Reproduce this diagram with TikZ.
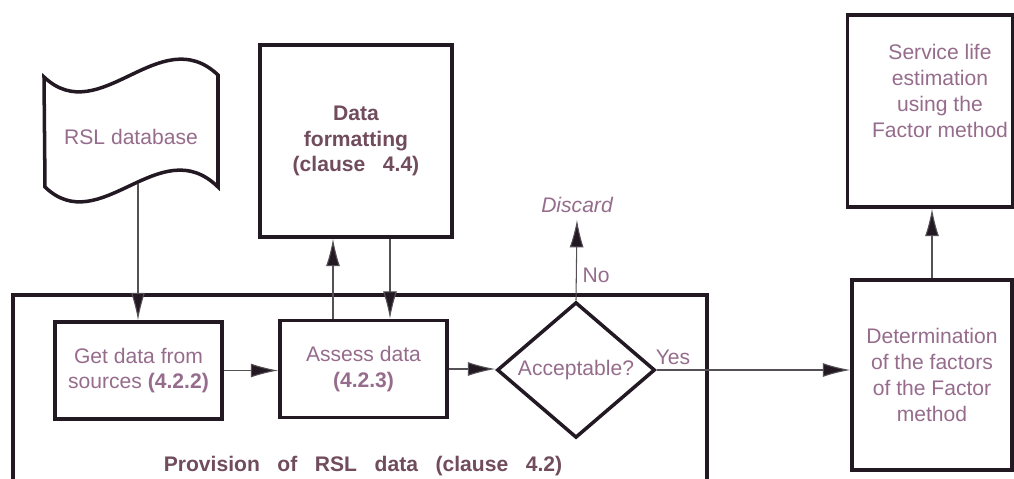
\documentclass[tikz,border=0pt]{standalone}
\usepackage{fontspec}
\setmainfont{Liberation Sans}
\usetikzlibrary{shapes.geometric,arrows.meta}
\definecolor{txtc}{RGB}{150,108,140}
\definecolor{boldc}{RGB}{112,76,92}
\definecolor{linec}{RGB}{35,25,35}
\definecolor{connc}{RGB}{85,80,85}
\begin{document}
\begin{tikzpicture}[x=0.02cm,y=-0.02cm,
    every node/.style={font=\fontsize{12}{14.7}\selectfont},
    box/.style={draw=linec,line width=2pt,inner sep=2pt,align=center,text=txtc},
    boldtxt/.style={font=\fontsize{12}{14.7}\selectfont\bfseries,text=boldc},
    lbl/.style={text=txtc,inner sep=1pt},
    arr/.style={draw=connc,line width=0.6pt,-{Latex[length=5.5mm,width=2.8mm,fill=linec]}}]
    \useasboundingbox (0,0) rectangle (1014,479);
    \clip (0,0) rectangle (1014,479);
    % database flag
    \draw[line width=2pt,draw=linec] (44,77) .. controls (100,130) and (160,20) .. (218,75)
        -- (218,187) .. controls (160,130) and (100,240) .. (45,187) -- cycle;
    \node[lbl] (db) at (131,137) {RSL database};
    \coordinate (dbfoot) at (138,184);
    % provision frame
    \draw[line width=2pt,draw=linec] (13,490) -- (13,295) -- (707,295) -- (707,490);
    \node[boldtxt] (prov) at (363,466) {Provision\ \ \ of\ \ \ RSL\ \ \ data\ \ \ (clause\ \ \ 4.2)};
    % boxes
    \node[box,minimum width=3.34cm,minimum height=1.94cm] (getdata) at (138.5,370.5)
        {Get data from\\sources \textbf{(4.2.2)}};
    \node[box,minimum width=3.34cm,minimum height=1.94cm] (assess) at (363.5,369)
        {Assess data\\\textbf{(4.2.3)}};
    \node[box,boldtxt,minimum width=3.84cm,minimum height=3.84cm] (fmt) at (356,141)
        {Data\\formatting\\(clause\ \ \ 4.4)};
    \node[diamond,draw=linec,line width=2pt,minimum width=3.16cm,minimum height=2.2cm,
        inner sep=0pt,text=txtc] (accept) at (576,370) {Acceptable?};
    \node[lbl,font=\fontsize{12}{14.7}\selectfont\itshape] (discard) at (577,205) {Discard};
    \node[box,minimum width=3.3cm,minimum height=3.84cm] (slife) at (930,111) {};
    \node[lbl,align=center] (slifetxt) at (940,91)
        {Service life\\estimation\\using the\\Factor method};
    \node[box,minimum width=3.2cm,minimum height=3.8cm] (determ) at (932,375)
        {Determination\\of the factors\\of the Factor\\method};
    % connectors
    \draw[arr] (dbfoot) -- (dbfoot |- getdata.north);
    \draw[arr] (getdata.east) -- (getdata.east -| assess.west);
    \draw[arr] (assess.east) -- (assess.east -| accept.west);
    \draw[arr] ([xshift=-0.61cm]assess.north) -- ([xshift=-0.61cm]assess.north |- fmt.south);
    \draw[arr] ([xshift=0.68cm]fmt.south) -- ([xshift=0.68cm]fmt.south |- assess.north);
    \draw[arr] (accept.north) -- ([yshift=-0.1cm]discard.south);
    \draw[arr] (accept.east) -- (accept.east -| determ.west);
    \draw[arr] (determ.north) -- (determ.north |- slife.south);
    % labels
    \node[lbl] (no) at (596,275) {No};
    \node[lbl] (yes) at (673,357) {Yes};
\end{tikzpicture}
\end{document}
